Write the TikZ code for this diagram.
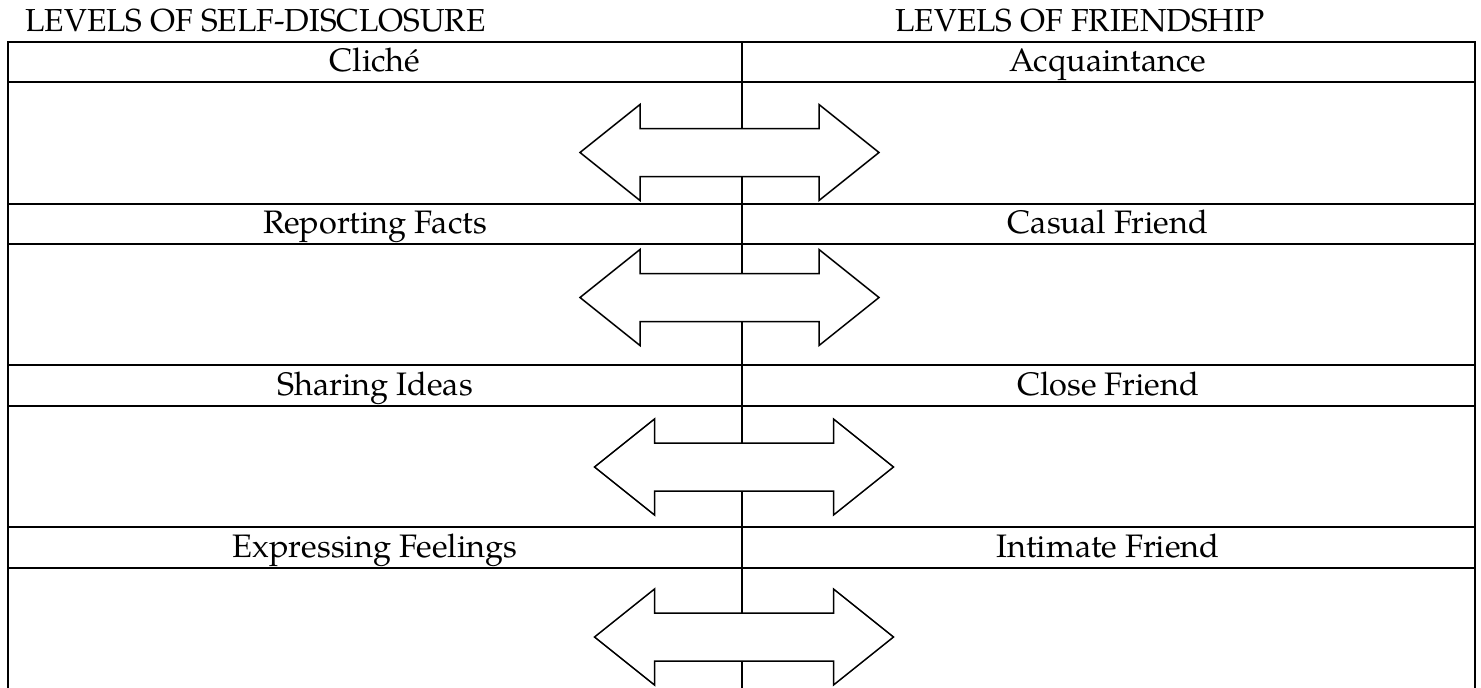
\documentclass[tikz,border=0pt]{standalone}
\usepackage{fontspec}
\setmainfont{texgyrepagella}[Extension=.otf, UprightFont=*-regular, BoldFont=*-bold, ItalicFont=*-italic]
\begin{document}
\begin{tikzpicture}[x=1pt,y=-1pt,
  grid/.style={line width=2.2pt},
  lbl/.style={anchor=base, inner sep=0pt, font=\fontsize{32.5}{34}\selectfont},
  hdr/.style={anchor=base west, inner sep=0pt, font=\fontsize{31.8}{34}\selectfont},
  arrowshape/.style={draw, fill=white, line width=1.5pt, line join=miter},
  darrow/.pic={\path[arrowshape] (-149.5,0) -- (-89.5,-48) -- (-89.5,-24) -- (89.5,-24) -- (89.5,-48) -- (149.5,0) -- (89.5,48) -- (89.5,24) -- (-89.5,24) -- (-89.5,48) -- cycle;}
]
\useasboundingbox (0,0) rectangle (1481,688);
% headers
\node[hdr] (h1) at (25,31) {LEVELS OF SELF-DISCLOSURE};
\node[hdr] (h2) at (895,31) {LEVELS OF FRIENDSHIP};
% table frame
\draw[grid] (8,690) -- (8,42) -- (1475,42) -- (1475,690);
\draw[grid] (742,42) -- (742,690);
\foreach \yy in {82,204,244,365,406,527,568}{
  \draw[grid] (8,\yy) -- (1475,\yy);
}
% row labels
\node[lbl] (l1) at (375,71) {Cliché};
\node[lbl] (r1) at (1108,71) {Acquaintance};
\node[lbl] (l2) at (375,233) {Reporting Facts};
\node[lbl] (r2) at (1108,233) {Casual Friend};
\node[lbl] (l3) at (375,395) {Sharing Ideas};
\node[lbl] (r3) at (1108,395) {Close Friend};
\node[lbl] (l4) at (375,557) {Expressing Feelings};
\node[lbl] (r4) at (1108,557) {Intimate Friend};
% double arrows
\pic at (729.5,152.5) {darrow};
\pic at (729.5,297.5) {darrow};
\pic at (744,467) {darrow};
\pic at (744,637) {darrow};
\end{tikzpicture}
\end{document}
